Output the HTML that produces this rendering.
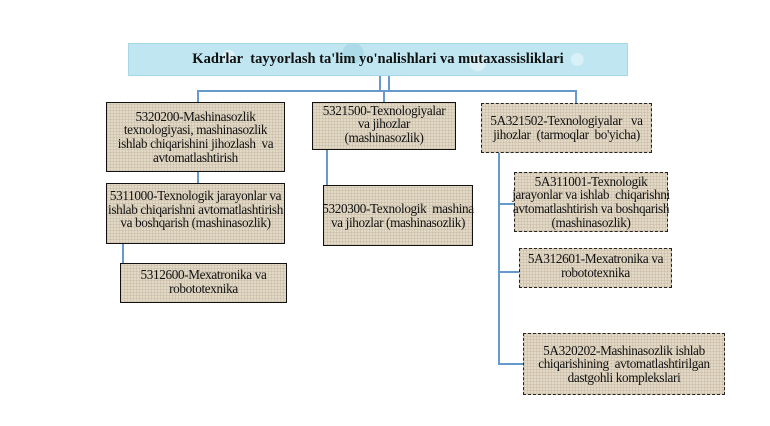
<!DOCTYPE html>
<html><head><meta charset="utf-8"><style>
html,body{margin:0;padding:0;background:#fff;}
body{width:770px;height:426px;position:relative;overflow:hidden;font-family:"Liberation Serif",serif;color:#111;}
.b{position:absolute;box-sizing:border-box;border:1.5px solid #111;background:#e2d8c6;
background-image:repeating-linear-gradient(0deg,rgba(120,100,70,.12) 0 1px,transparent 1px 3px),repeating-linear-gradient(90deg,rgba(120,100,70,.12) 0 1px,transparent 1px 3px);
display:flex;align-items:center;justify-content:center;text-align:center;font-size:13.2px;line-height:13.6px;white-space:nowrap;letter-spacing:-0.35px;}
.d{border:1.5px dashed #222;}
.l{position:absolute;background:#6699cc;}
.t{position:absolute;left:128px;top:43px;width:500px;height:33px;background:#bfe6f1;
background-image:radial-gradient(circle at 20% 40%,rgba(255,255,255,.5) 0 6px,transparent 7px),radial-gradient(circle at 70% 60%,rgba(255,255,255,.4) 0 8px,transparent 9px),radial-gradient(circle at 45% 30%,rgba(160,210,225,.6) 0 10px,transparent 11px),radial-gradient(circle at 90% 50%,rgba(255,255,255,.4) 0 6px,transparent 7px);
border:1px solid #a8d8e8;box-sizing:border-box;display:flex;align-items:center;justify-content:center;font-weight:bold;font-size:14.5px;white-space:nowrap;}
</style></head><body>
<div class="t">Kadrlar&nbsp; tayyorlash ta'lim yo'nalishlari va mutaxassisliklari</div>
<div class="l" style="left:379px;top:76px;width:1.5px;height:15px"></div>
<div class="l" style="left:388px;top:76px;width:1.5px;height:15px"></div>
<div class="l" style="left:197px;top:90px;width:379px;height:1.5px"></div>
<div class="l" style="left:197px;top:90px;width:1.5px;height:12px"></div>
<div class="l" style="left:383px;top:90px;width:1.5px;height:12px"></div>
<div class="l" style="left:575px;top:90px;width:1.5px;height:13px"></div>
<div class="l" style="left:197px;top:172px;width:1.5px;height:11px"></div>
<div class="l" style="left:122px;top:244px;width:1.5px;height:19px"></div>
<div class="l" style="left:326px;top:150px;width:1.5px;height:35px"></div>
<div class="l" style="left:498px;top:153px;width:1.5px;height:211px"></div>
<div class="l" style="left:498px;top:203px;width:16px;height:1.5px"></div>
<div class="l" style="left:498px;top:271px;width:21px;height:1.5px"></div>
<div class="l" style="left:498px;top:363px;width:25px;height:1.5px"></div>
<div class="b" style="left:106px;top:102px;width:179px;height:70px">5320200-Mashinasozlik<br>texnologiyasi, mashinasozlik<br>ishlab chiqarishini jihozlash&nbsp; va<br>avtomatlashtirish</div>
<div class="b" style="left:106px;top:183px;width:179px;height:61px;padding-bottom:8px">5311000-Texnologik jarayonlar va<br>ishlab chiqarishni avtomatlashtirish<br>va boshqarish (mashinasozlik)</div>
<div class="b" style="left:120px;top:263px;width:167px;height:40px;padding-bottom:2px">5312600-Mexatronika va<br>robototexnika</div>
<div class="b" style="left:312px;top:102px;width:144px;height:48px;padding-bottom:4px">5321500-Texnologiyalar<br>va jihozlar<br>(mashinasozlik)</div>
<div class="b" style="left:323px;top:185px;width:150px;height:61px">5320300-Texnologik&nbsp; mashina<br>va jihozlar (mashinasozlik)</div>
<div class="b d" style="left:481px;top:103px;width:171px;height:50px">5A321502-Texnologiyalar&nbsp;&nbsp; va<br>jihozlar&nbsp; (tarmoqlar&nbsp; bo'yicha)</div>
<div class="b d" style="left:514px;top:172px;width:154px;height:60px">5A311001-Texnologik<br>jarayonlar va ishlab&nbsp; chiqarishni<br>avtomatlashtirish va boshqarish<br>(mashinasozlik)</div>
<div class="b d" style="left:519px;top:248px;width:153px;height:40px;padding-bottom:4px">5A312601-Mexatronika va<br>robototexnika</div>
<div class="b d" style="left:523px;top:333px;width:202px;height:62px">5A320202-Mashinasozlik ishlab<br>chiqarishining&nbsp; avtomatlashtirilgan<br>dastgohli komplekslari</div>
</body></html>
